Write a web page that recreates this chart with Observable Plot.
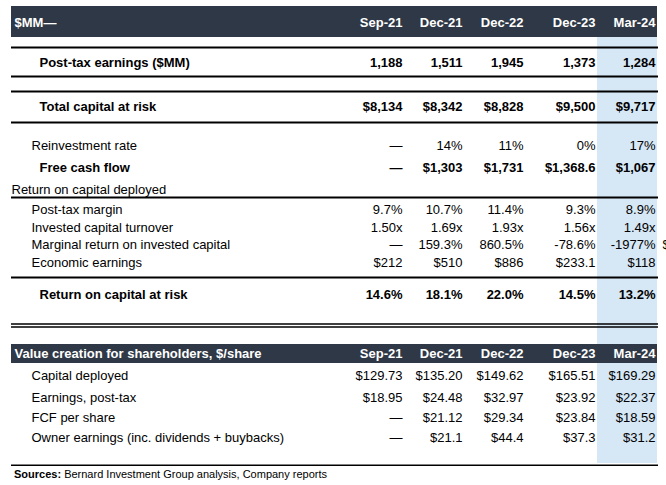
<!DOCTYPE html>
<html>
<head>
<meta charset="utf-8">
<script src="https://cdn.jsdelivr.net/npm/d3@7"></script>
<script src="https://cdn.jsdelivr.net/npm/@observablehq/plot@0.6"></script>
<style>
  html, body { margin: 0; padding: 0; background: #fff; }
  #chart { width: 666px; }
  #caption { font-family: "Liberation Sans", Arial, sans-serif; font-size: 11px; color: #000; padding-left: 14px; height: 19px; line-height: 17px; }
</style>
</head>
<body>
<div id="chart"></div>
<div id="caption"><b>Sources:</b> Bernard Investment Group analysis, Company reports</div>
<script>
// ---- data ----
const periods = ["Sep-21", "Dec-21", "Dec-22", "Dec-23", "Mar-24"];
const headerLabel = "$MM—";
const sectionLabel = "Return on capital deployed";
const valueHeaderLabel = "Value creation for shareholders, $/share";

const rowLabels = [
  "Post-tax earnings ($MM)",
  "Total capital at risk",
  "Reinvestment rate",
  "Free cash flow",
  "Post-tax margin",
  "Invested capital turnover",
  "Marginal return on invested capital",
  "Economic earnings",
  "Return on capital at risk",
  "Capital deployed",
  "Earnings, post-tax",
  "FCF per share",
  "Owner earnings (inc. dividends + buybacks)"
];
const postTaxEarnings = ["1,188", "1,511", "1,945", "1,373", "1,284"];
const totalCapitalAtRisk = ["$8,134", "$8,342", "$8,828", "$9,500", "$9,717"];
const reinvestmentRate = ["—", "14%", "11%", "0%", "17%"];
const freeCashFlow = ["—", "$1,303", "$1,731", "$1,368.6", "$1,067"];
const postTaxMargin = ["9.7%", "10.7%", "11.4%", "9.3%", "8.9%"];
const investedCapitalTurnover = ["1.50x", "1.69x", "1.93x", "1.56x", "1.49x"];
const marginalReturn = ["—", "159.3%", "860.5%", "-78.6%", "-1977%"];
const economicEarnings = ["$212", "$510", "$886", "$233.1", "$118"];
const returnOnCapitalAtRisk = ["14.6%", "18.1%", "22.0%", "14.5%", "13.2%"];
const capitalDeployed = ["$129.73", "$135.20", "$149.62", "$165.51", "$169.29"];
const earningsPostTax = ["$18.95", "$24.48", "$32.97", "$23.92", "$22.37"];
const fcfPerShare = ["—", "$21.12", "$29.34", "$23.84", "$18.59"];
const ownerEarnings = ["—", "$21.1", "$44.4", "$37.3", "$31.2"];
const clippedNextColumn = "$";

const rowValues = [
  postTaxEarnings, totalCapitalAtRisk, reinvestmentRate, freeCashFlow,
  postTaxMargin, investedCapitalTurnover, marginalReturn, economicEarnings,
  returnOnCapitalAtRisk, capitalDeployed, earningsPostTax, fcfPerShare, ownerEarnings
];

// ---- layout (positions / styles) ----
const W = 666, H = 466;
const FONT = "Liberation Sans, Arial, Helvetica, sans-serif";
const colRight = [402, 462, 523, 595, 655];
const rowY = [62, 106, 145, 167, 209, 227, 244, 262, 294, 375, 397, 417, 437];
const rowBold = [true, true, false, true, false, false, false, false, true, false, false, false, false];
const rowIndent = rowBold.map(b => b ? 39 : 31);
const left = 11, right = 657;
const dark = "#2f3846", highlight = "#d6e7f5";

const bars = [
  {x1: colRight[4] - 58, x2: right, y1: 37, y2: 463, fill: highlight},
  {x1: left, x2: right, y1: 6, y2: 37, fill: dark},
  {x1: left, x2: right, y1: 344, y2: 363, fill: dark}
];
const rules = [
  {y: 47, w: 2}, {y: 76, w: 2}, {y: 91, w: 2}, {y: 122, w: 2},
  {y: 197, w: 2}, {y: 277, w: 2},
  {y: 323.5, w: 1.3}, {y: 326.5, w: 1.3},
  {y: 465, w: 2}
];

const headerTitles = [
  {x: 14, y: 22, text: headerLabel},
  {x: 14, y: 353, text: valueHeaderLabel}
];
const headerPeriods = [
  ...periods.map((p, i) => ({x: colRight[i], y: 22, text: p})),
  ...periods.map((p, i) => ({x: colRight[i], y: 353, text: p}))
];

const labels = rowLabels.map((t, r) => ({x: rowIndent[r], y: rowY[r], text: t, bold: rowBold[r]}));
labels.push({x: 11, y: 189, text: sectionLabel, bold: false});

const cells = [];
rowValues.forEach((vals, r) => vals.forEach((v, i) =>
  cells.push({x: colRight[i], y: rowY[r], text: v, bold: rowBold[r]})));

const textOpts = {fontFamily: FONT, fontSize: 13};

const chart = Plot.plot({
  width: W, height: H, margin: 0,
  x: {type: "linear", domain: [0, W], range: [0, W], axis: null},
  y: {type: "linear", domain: [0, H], range: [0, H], axis: null},
  style: {background: "#fff"},
  marks: [
    Plot.rect(bars, {x1: "x1", x2: "x2", y1: "y1", y2: "y2", fill: d => d.fill}),
    Plot.ruleY(rules, {y: "y", x1: left, x2: right + 1, stroke: "#000", strokeWidth: d => d.w}),
    Plot.text(headerTitles, {x: "x", y: "y", text: "text", textAnchor: "start", fill: "#fff", fontWeight: "bold", ...textOpts}),
    Plot.text(headerPeriods, {x: "x", y: "y", text: "text", textAnchor: "end", fill: "#fff", fontWeight: "bold", ...textOpts}),
    Plot.text(labels.filter(d => d.bold), {x: "x", y: "y", text: "text", textAnchor: "start", fill: "#000", fontWeight: "bold", ...textOpts}),
    Plot.text(labels.filter(d => !d.bold), {x: "x", y: "y", text: "text", textAnchor: "start", fill: "#000", ...textOpts}),
    Plot.text(cells.filter(d => d.bold), {x: "x", y: "y", text: "text", textAnchor: "end", fill: "#000", fontWeight: "bold", ...textOpts}),
    Plot.text(cells.filter(d => !d.bold), {x: "x", y: "y", text: "text", textAnchor: "end", fill: "#000", ...textOpts}),
    Plot.text([{x: 662, y: 244, text: clippedNextColumn}], {x: "x", y: "y", text: "text", textAnchor: "start", fill: "#000", ...textOpts})
  ]
});
document.getElementById("chart").appendChild(chart);
</script>
</body>
</html>
